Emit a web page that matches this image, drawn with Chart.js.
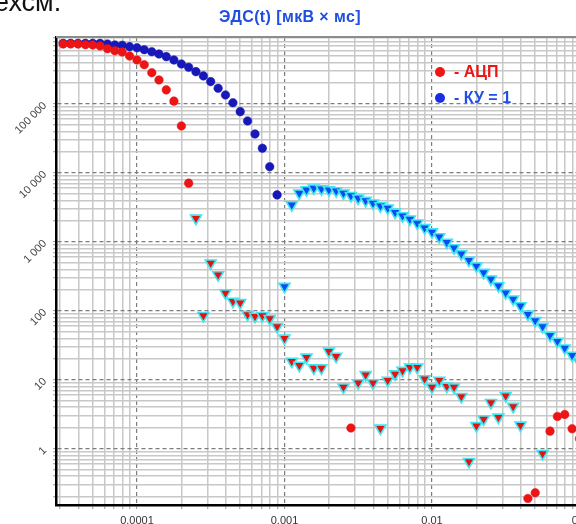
<!DOCTYPE html>
<html>
<head>
<meta charset="utf-8">
<script src="https://cdn.jsdelivr.net/npm/chart.js@4.4.0/dist/chart.umd.min.js"></script>
<style>
    html, body { margin: 0; padding: 0; width: 576px; height: 524px; overflow: hidden; background: #fff; }
    body { position: relative; font-family: "Liberation Sans", Arial, sans-serif; }
    #wrap { position: absolute; left: 0; top: 0; width: 620px; height: 540px; }
    .cut { position: absolute; left: -6px; top: -11px; font-size: 27px; line-height: 27px; color: #111; }
    .title { position: absolute; left: 0; width: 580px; top: 8px; text-align: center; font-size: 16px; letter-spacing: 0.4px; font-weight: bold; color: #1f4fe0; }
    .leg { position: absolute; left: 435px; font-size: 16px; font-weight: bold; line-height: 18px; white-space: nowrap; }
    .leg i { display: inline-block; width: 10px; height: 10px; border-radius: 50%; margin-right: 9px; vertical-align: 0px; }
</style>
</head>
<body>
<div id="wrap"><canvas id="emf-chart"></canvas></div>
<div class="cut">ехсм.</div>
<div class="title">ЭДС(t) [мкВ × мс]</div>
<div class="leg" style="top:63px;color:#ee1515"><i style="background:#ee1515"></i>- АЦП</div>
<div class="leg" style="top:89px;color:#1f4fe8"><i style="background:#1a2ee0"></i>- КУ = 1</div>
<script>
// time gates, s (20 per decade)
const TIMES = [
    3.16e-5, 3.55e-5, 3.98e-5, 4.47e-5, 5.01e-5, 5.62e-5, 6.31e-5, 7.08e-5, 7.94e-5, 8.91e-5,
    1.00e-4, 1.12e-4, 1.26e-4, 1.41e-4, 1.58e-4, 1.78e-4, 2.00e-4, 2.24e-4, 2.51e-4, 2.82e-4,
    3.16e-4, 3.55e-4, 3.98e-4, 4.47e-4, 5.01e-4, 5.62e-4, 6.31e-4, 7.08e-4, 7.94e-4, 8.91e-4,
    1.00e-3, 1.12e-3, 1.26e-3, 1.41e-3, 1.58e-3, 1.78e-3, 2.00e-3, 2.24e-3, 2.51e-3, 2.82e-3,
    3.16e-3, 3.55e-3, 3.98e-3, 4.47e-3, 5.01e-3, 5.62e-3, 6.31e-3, 7.08e-3, 7.94e-3, 8.91e-3,
    1.00e-2, 1.12e-2, 1.26e-2, 1.41e-2, 1.58e-2, 1.78e-2, 2.00e-2, 2.24e-2, 2.51e-2, 2.82e-2,
    3.16e-2, 3.55e-2, 3.98e-2, 4.47e-2, 5.01e-2, 5.62e-2, 6.31e-2, 7.08e-2, 7.94e-2, 8.91e-2,
    1.00e-1
];

// signed EMF, negative values are drawn as triangles
const ADC = [
    741000, 741000, 741000, 723000, 716000, 693000, 633000, 592000, 567000, 496000,
    434000, 371000, 284000, 223000, 160000, 110000, 48000, 7100, -2200, -85,
    -491, -332, -181, -137, -131, -88, -83, -85, -77, -59,
    -40, -18.5, -16.2, -21.2, -14.8, -14.8, -25.9, -21.8, -7.8, 2.0,
    -9.0, -11.8, -9.0, -1.98, -9.8, -12.1, -13.6, -15.2, -15.2, -10.3,
    -7.8, -9.8, -8.05, -7.8, -5.7, -0.65, -2.15, -2.68, -4.65, -2.86,
    -5.86, -4.1, -2.19, 0.19, 0.23, -0.85, 1.8, 2.94, 3.14, 1.95,
    1.4
];

const KU1 = [
    755000, 755000, 755000, 755000, 755000, 755000, 741000, 716000, 709000, 677000,
    654000, 612000, 572000, 531000, 485000, 434000, 380000, 340000, 294000, 255000,
    211000, 169000, 135000, 104000, 77300, 56700, 36700, 22800, 12300, 4800,
    -225, -3440, -5080, -5680, -6000, -5860, -5680, -5480, -5080, -4690,
    -4300, -3970, -3640, -3320, -3080, -2690, -2380, -2130, -1870, -1600,
    -1390, -1180, -984, -819, -670, -539, -445, -359, -288, -230,
    -182, -148, -118, -89, -72, -59, -44, -36, -28.8, -22.6,
    -18
];

const X_DECADES = [1e-4, 1e-3, 1e-2, 1e-1];
const X_LABELS = ['0.0001', '0.001', '0.01', '0.1'];
const Y_DECADES = [1, 10, 100, 1000, 10000, 100000];
const Y_LABELS = ['1', '10', '100', '1 000', '10 000', '100 000'];
const MANTISSAS = [1, 2, 3, 4, 5, 6, 7, 8, 9];

const X_MIN = 2.825e-5, X_MAX = 0.1377;
const Y_MIN = 0.1528, Y_MAX = 935000;

function pickPoints(values, positive) {
    const pts = [];
    TIMES.forEach((t, i) => {
        const v = values[i];
        if (v == null) return;
        if (positive ? v > 0 : v < 0) pts.push({ x: t, y: Math.abs(v) });
    });
    return pts;
}

function logTicks(min, max) {
    const out = [];
    for (let e = Math.floor(Math.log10(min)); e <= Math.ceil(Math.log10(max)); e++) {
        MANTISSAS.forEach(m => {
            const v = parseFloat((m * Math.pow(10, e)).toPrecision(6));
            if (v >= min && v <= max) out.push({ value: v, major: m === 1 });
        });
    }
    return out;
}

function isMajorCtx(ctx) {
    return !!(ctx.tick && ctx.tick.major);
}

function labelFor(decades, labels) {
    return (value) => {
        const k = decades.findIndex(d => Math.abs(d - value) / d < 1e-6);
        return k >= 0 ? labels[k] : '';
    };
}

const framePlugin = {
    id: 'frameTop',
    beforeDatasetsDraw(chart) {
        const { ctx, chartArea } = chart;
        ctx.save();
        ctx.strokeStyle = '#8c8c8c';
        ctx.lineWidth = 2;
        ctx.beginPath();
        ctx.moveTo(chartArea.left, chartArea.top);
        ctx.lineTo(chartArea.right, chartArea.top);
        ctx.stroke();
        ctx.restore();
    }
};

const gridColor = ctx => isMajorCtx(ctx) ? '#7d7d7d' : '#c8c8c8';
const gridWidth = ctx => isMajorCtx(ctx) ? 1.2 : 1.5;
const gridDash = ctx => isMajorCtx(ctx) ? [4, 3] : [];

Chart.defaults.font.family = '"Liberation Sans", Arial, sans-serif';

new Chart(document.getElementById('emf-chart'), {
    type: 'scatter',
    data: {
        datasets: [{
            label: 'АЦП',
            data: pickPoints(ADC, true),
            pointStyle: 'circle',
            pointRadius: 4.3,
            backgroundColor: '#ec1414',
            borderColor: '#ec1414',
            borderWidth: 0.5
        }, {
            label: 'АЦП (-)',
            data: pickPoints(ADC, false),
            pointStyle: 'triangle',
            rotation: 180,
            pointRadius: 6.3,
            backgroundColor: '#e41212',
            borderColor: '#3fe6f0',
            borderWidth: 1.6
        }, {
            label: 'КУ = 1',
            data: pickPoints(KU1, true),
            pointStyle: 'circle',
            pointRadius: 4.3,
            backgroundColor: '#1818b8',
            borderColor: '#1818b8',
            borderWidth: 0.5
        }, {
            label: 'КУ = 1 (-)',
            data: pickPoints(KU1, false),
            pointStyle: 'triangle',
            rotation: 180,
            pointRadius: 6.3,
            backgroundColor: '#0a4cf2',
            borderColor: '#3fe6f0',
            borderWidth: 1.6
        }]
    },
    options: {
        responsive: true,
        maintainAspectRatio: false,
        animation: false,
        layout: { padding: { top: 37, left: 0, right: 20, bottom: 0 } },
        plugins: {
            legend: { display: false },
            tooltip: { enabled: false },
            title: { display: false }
        },
        scales: {
            x: {
                type: 'logarithmic',
                min: X_MIN,
                max: X_MAX,
                afterBuildTicks: s => { s.ticks = logTicks(X_MIN, X_MAX); },
                afterFit: s => { s.height = 35; },
                ticks: {
                    autoSkip: false,
                    maxRotation: 0,
                    minRotation: 0,
                    padding: 5,
                    color: '#333',
                    font: { size: 11 },
                    callback: labelFor(X_DECADES, X_LABELS)
                },
                grid: {
                    color: gridColor,
                    lineWidth: gridWidth,
                    tickLength: 4,
                    tickColor: '#9a9a9a',
                    tickWidth: 1
                },
                border: { display: true, color: '#000', width: 2.5, dash: gridDash }
            },
            y: {
                type: 'logarithmic',
                min: Y_MIN,
                max: Y_MAX,
                afterBuildTicks: s => { s.ticks = logTicks(Y_MIN, Y_MAX); },
                afterFit: s => { s.width = 56; },
                ticks: {
                    autoSkip: false,
                    minRotation: 45,
                    maxRotation: 45,
                    padding: 8,
                    color: '#444',
                    font: { size: 11 },
                    callback: labelFor(Y_DECADES, Y_LABELS)
                },
                grid: {
                    color: gridColor,
                    lineWidth: gridWidth,
                    tickLength: 3,
                    tickColor: '#9a9a9a',
                    tickWidth: 1
                },
                border: { display: true, color: '#000', width: 2.5, dash: gridDash }
            }
        }
    },
    plugins: [framePlugin]
});
</script>
</body>
</html>
